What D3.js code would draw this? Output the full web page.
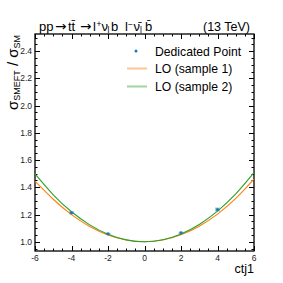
<!DOCTYPE html>
<html>
<head>
<meta charset="utf-8">
<script src="https://cdn.jsdelivr.net/npm/d3@7"></script>
<style>
  body { margin: 0; background: #fff; }
  text { font-family: "Liberation Sans", Arial, sans-serif; }
</style>
</head>
<body>
<div class="chart"></div>
<script>
// values
var curveX = [-6, -5, -4, -3, -2, -1, 0, 1, 2, 3, 4, 5, 6];
var loSample1 = [1.445, 1.312, 1.199, 1.112, 1.050, 1.013, 1.0, 1.013, 1.051, 1.114, 1.203, 1.318, 1.46];
var loSample2 = [1.498, 1.345, 1.220, 1.124, 1.055, 1.014, 1.0, 1.014, 1.057, 1.127, 1.225, 1.351, 1.507];
var pointX = [-4, -2, 2, 4];
var pointY = [1.213, 1.058, 1.066, 1.237];
var pointErr = [0.012, 0.008, 0.009, 0.015];
var xTicks = [-6, -4, -2, 0, 2, 4, 6];
var yTicks = [1.0, 1.2, 1.4, 1.6, 1.8, 2.0, 2.2, 2.4];
var legLabels = ["Dedicated Point", "LO (sample 1)", "LO (sample 2)"];

var W = 283, H = 283;
var m = {left: 35, right: 29, top: 34, bottom: 32};

var svg = d3.select("div.chart").append("svg")
            .attr("width", W).attr("height", H);

var x = d3.scaleLinear().domain([-6, 6]).range([m.left, W - m.right]);
var y = d3.scaleLinear().domain([0.932, 2.526]).range([H - m.bottom, m.top]);

var x0 = m.left, x1 = W - m.right, y0 = H - m.bottom, y1 = m.top;

//minor + major ticks, drawn inward on all four sides
var ticks = svg.append("g").attr("stroke", "#000").attr("stroke-width", 1);
var xMinor = d3.range(-6, 6.01, 0.5);
var yMinor = d3.range(0.95, 2.526, 0.05);
xMinor.forEach(function(v){
  var big = xTicks.indexOf(Math.round(v*10)/10) >= 0;
  var len = big ? 5 : 2.5;
  var px = Math.round(x(v)) + 0.5;
  ticks.append("line").attr("x1", px).attr("x2", px).attr("y1", y0).attr("y2", y0 - len);
  ticks.append("line").attr("x1", px).attr("x2", px).attr("y1", y1).attr("y2", y1 + len);
});
yMinor.forEach(function(v){
  var r = Math.round(v*100)/100;
  var big = yTicks.some(function(t){ return Math.abs(t - r) < 1e-6; });
  var len = big ? 5 : 2.5;
  var py = Math.round(y(r)) + 0.5;
  ticks.append("line").attr("x1", x0).attr("x2", x0 + len).attr("y1", py).attr("y2", py);
  ticks.append("line").attr("x1", x1).attr("x2", x1 - len).attr("y1", py).attr("y2", py);
});

svg.append("rect")
   .attr("x", x0).attr("y", y1)
   .attr("width", x1 - x0).attr("height", y0 - y1)
   .attr("fill", "none").attr("stroke", "#000").attr("stroke-width", 1.3);

//tick labels
svg.append("g").selectAll("text").data(xTicks).enter().append("text")
   .attr("x", d => x(d)).attr("y", y0 + 10)
   .attr("text-anchor", "middle").attr("font-size", 8.5).attr("fill", "#222")
   .text(d => d);
svg.append("g").selectAll("text").data(yTicks).enter().append("text")
   .attr("x", x0 - 3).attr("y", d => y(d) + 3)
   .attr("text-anchor", "end").attr("font-size", 8.5).attr("fill", "#222")
   .text(d => d.toFixed(1));

//curves
var line = d3.line().x((d, i) => x(curveX[i])).y(d => y(d)).curve(d3.curveNatural);
svg.append("path").datum(loSample1).attr("d", line)
   .attr("fill", "none").attr("stroke", "#ff7f0e").attr("stroke-width", 1.1);
svg.append("path").datum(loSample2).attr("d", line)
   .attr("fill", "none").attr("stroke", "#2ca02c").attr("stroke-width", 1.1);

//dedicated points
var pts = svg.append("g").selectAll("g").data(pointX).enter().append("g");
pts.append("rect")
   .attr("x", d => x(d) - 2.5)
   .attr("y", (d, i) => y(pointY[i] + pointErr[i]))
   .attr("width", 5)
   .attr("height", (d, i) => y(pointY[i] - pointErr[i]) - y(pointY[i] + pointErr[i]))
   .attr("fill", "#1f77b4").attr("opacity", 0.35);
pts.append("circle")
   .attr("cx", d => x(d)).attr("cy", (d, i) => y(pointY[i]))
   .attr("r", 1.6).attr("fill", "#1f77b4");

//legend
var leg = svg.append("g");
leg.append("circle").attr("cx", 136).attr("cy", 51).attr("r", 1.5).attr("fill", "#1f77b4");
leg.append("line").attr("x1", 127).attr("x2", 147).attr("y1", 68.5).attr("y2", 68.5)
   .attr("stroke", "#ff7f0e").attr("stroke-opacity", 0.45).attr("stroke-width", 2);
leg.append("line").attr("x1", 127).attr("x2", 147).attr("y1", 86.5).attr("y2", 86.5)
   .attr("stroke", "#2ca02c").attr("stroke-opacity", 0.45).attr("stroke-width", 2);
leg.selectAll("text").data(legLabels).enter().append("text")
   .attr("x", 155).attr("y", (d, i) => 55.5 + i * 17.7)
   .attr("font-size", 12.2).attr("fill", "#000")
   .text(d => d);

//title, pieces placed one by one
var title = svg.append("text").attr("y", 31).attr("font-size", 13);
var parts = [
  {t: "pp", x: 39},
  {t: "\u2192", x: 55, arrow: true},
  {t: "tt\u0304", x: 68},
  {t: "\u2192", x: 80, arrow: true},
  {t: "l", x: 93},
  {t: "+", x: 96.5, sup: true},
  {t: "\u03bd", x: 101.5},
  {t: "l", x: 107.5, sub: true},
  {t: "b", x: 111},
  {t: "l", x: 125},
  {t: "\u2212", x: 128, sup: true},
  {t: "\u03bd\u0304", x: 133.5},
  {t: "l", x: 140, sub: true},
  {t: "b\u0304", x: 145}
];
parts.forEach(function(p){
  var ts = title.append("tspan").attr("x", p.x).text(p.t);
  if (p.sup) ts.attr("font-size", 8.5).attr("y", 26.5);
  else if (p.sub) ts.attr("font-size", 8.5).attr("y", 33);
  else ts.attr("y", 31);
  if (p.arrow) ts.style("font-family", "'DejaVu Sans'").attr("font-size", 13.5);
});

svg.append("text").attr("x", 250).attr("y", 31).attr("text-anchor", "end")
   .attr("font-size", 12.5).text("(13 TeV)");

//axis titles
var yl = svg.append("text").attr("transform", "translate(18," + (y1 + 1) + ") rotate(-90)")
   .attr("text-anchor", "end").attr("font-size", 15);
yl.append("tspan").text("\u03c3");
yl.append("tspan").attr("font-size", 9).attr("dy", 1.5).text("SMEFT");
yl.append("tspan").attr("dy", -1.5).text(" / \u03c3");
yl.append("tspan").attr("font-size", 9).attr("dy", 1.5).text("SM");

svg.append("text").attr("x", x1).attr("y", 273).attr("text-anchor", "end")
   .attr("font-size", 12.5).text("ctj1");
</script>
</body>
</html>
